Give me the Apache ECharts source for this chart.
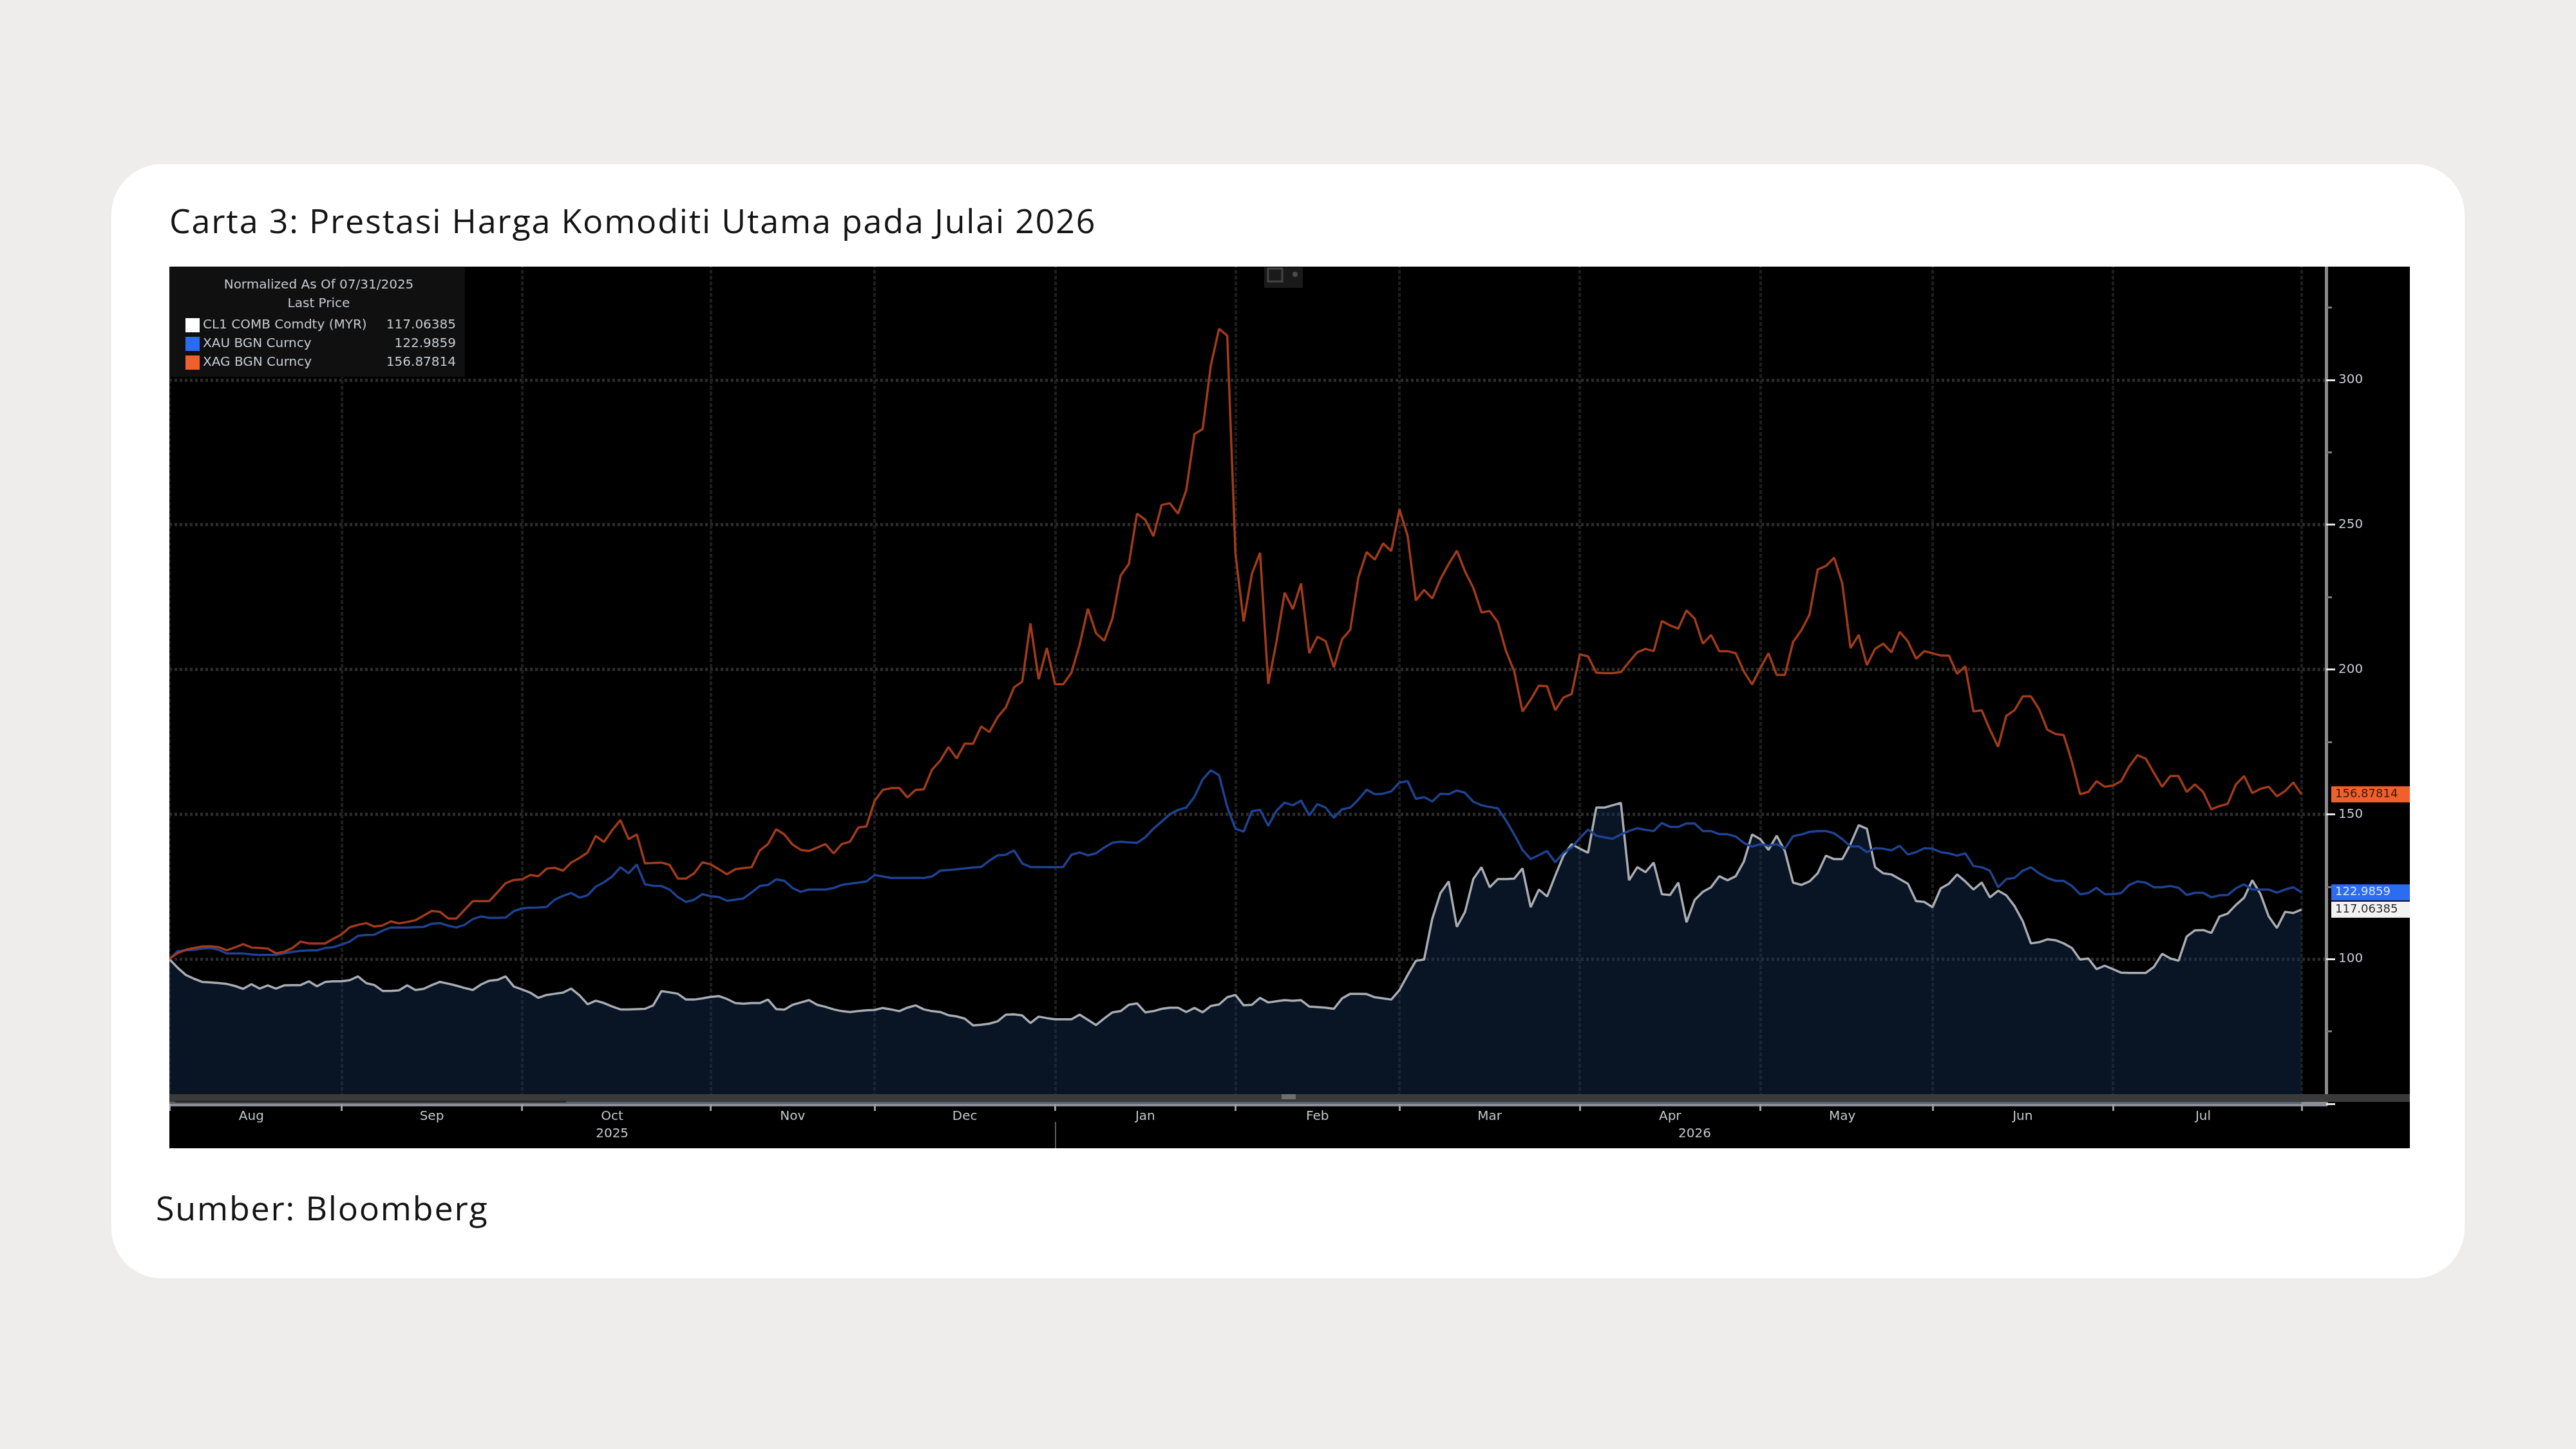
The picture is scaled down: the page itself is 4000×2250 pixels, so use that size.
<!DOCTYPE html>
<html lang="ms">
<head>
  <meta charset="UTF-8">
  <title>Carta 3: Prestasi Harga Komoditi Utama pada Julai 2026</title>
  <script src="https://cdn.jsdelivr.net/npm/echarts/dist/echarts.min.js"></script>
  <style>
    html, body { margin: 0; padding: 0; }
    body {
      width: 4000px;
      height: 2250px;
      background: #eeedeb;
      position: relative;
      overflow: hidden;
      font-family: 'Open Sans', sans-serif;
    }
    .card {
      position: absolute;
      left: 173px;
      top: 255px;
      width: 3654px;
      height: 1730px;
      background: #ffffff;
      border-radius: 78px;
    }
    .title, .source {
      position: absolute;
      font-size: 52px;
      font-weight: 500;
      letter-spacing: 1.8px;
      line-height: 60px;
      color: #141414;
      white-space: nowrap;
    }
    .title { left: 263px; top: 312px; }
    .source { left: 242px; top: 1845px; }
    .chart-box {
      position: absolute;
      left: 263px;
      top: 414px;
      width: 3479px;
      height: 1369px;
      background: #000;
      overflow: hidden;
    }
    #chart {
      position: absolute;
      left: 0;
      top: -60px;
      width: 3479px;
      height: 1429px;
    }
  </style>
</head>
<body>
  <div class="card"></div>
  <div class="title">Carta 3: Prestasi Harga Komoditi Utama pada Julai 2026</div>
  <div class="chart-box"><div id="chart"></div></div>
  <div class="source">Sumber: Bloomberg</div>

  <script>
    // normalized to 100 on 07/31/2025, one value per trading day up to 07/31/2026
    const seriesNames = ['CL1 COMB Comdty (MYR)', 'XAU BGN Curncy', 'XAG BGN Curncy'];
    const monthNames = ['Jan', 'Feb', 'Mar', 'Apr', 'May', 'Jun', 'Jul', 'Aug', 'Sep', 'Oct', 'Nov', 'Dec'];
    const holidays = ['2025-12-25'];

    const cl1Values = [
      100, 97, 94.5, 93.2, 92.1, 91.9, 91.7, 91.4, 90.7, 89.7,
      91.3, 89.8, 90.9, 89.8, 90.9, 91, 91, 92.3, 90.6, 92.1,
      92.3, 92.3, 92.7, 94, 91.7, 91, 89, 89, 89.2, 90.9,
      89.3, 89.7, 91, 92.1, 91.5, 90.8, 90, 89.3, 91.2, 92.5,
      92.8, 94, 90.5, 89.5, 88.4, 86.6, 87.6, 88, 88.4, 89.8,
      87.5, 84.4, 85.6, 84.8, 83.6, 82.6, 82.6, 82.7, 82.8, 84,
      88.9, 88.5, 88, 86, 86, 86.4, 86.9, 87.2, 86.2, 84.8,
      84.6, 84.8, 84.8, 86, 82.7, 82.5, 84.2, 85, 85.8, 84.2,
      83.5, 82.6, 82, 81.7, 82, 82.3, 82.4, 83.1, 82.6, 82,
      83.2, 84, 82.6, 82, 81.7, 80.6, 80.2, 79.4, 77.1, 77.3,
      77.7, 78.5, 80.8, 80.9, 80.5, 77.9, 80.1, 79.6, 79.2, 79.2,
      79.2, 80.8, 79, 77.2, 79.5, 81.6, 82, 84.2, 84.7, 81.6,
      82, 82.8, 83.2, 83.2, 81.7, 83.1, 81.6, 83.8, 84.3, 86.8,
      87.6, 84, 84.2, 86.6, 85, 85.4, 85.8, 85.6, 85.8, 83.6,
      83.4, 83.2, 82.8, 86.4, 88, 88, 87.9, 86.8, 86.4, 86,
      89.3, 94.5, 99.4, 99.8, 113.9, 122.8, 126.8, 111.1, 116.3, 127.6,
      131.7, 124.8, 127.6, 127.6, 127.8, 131.3, 117.9, 124, 121.6, 128.8,
      135.7, 139.7, 138.1, 136.7, 152.3, 152.3, 153.1, 153.9, 127.2, 131.7,
      130, 133.3, 122.4, 122.1, 126.4, 112.7, 120.4, 123.2, 124.8, 128.6,
      127.2, 128.6, 133.7, 143, 141.4, 137.7, 142.6, 137.3, 126.4, 125.6,
      126.8, 129.6, 135.7, 134.5, 134.5, 139.7, 146.2, 145, 131.7, 129.6,
      129.2, 127.6, 126, 120, 119.7, 117.9, 124.4, 126, 129.2, 126.8,
      124, 126.4, 121.3, 123.6, 122, 118.3, 113.1, 105.4, 105.8, 106.8,
      106.5, 105.4, 103.8, 99.8, 100.2, 96.5, 97.7, 96.5, 95.3, 95.2,
      95.2, 95.2, 97.3, 101.8, 100.2, 99.4, 107.8, 109.9, 110, 109,
      114.7, 115.7, 118.7, 121.2, 127.2, 122.4, 114.7, 110.7, 116.3, 115.9,
      117.06385
    ];

    const xauValues = [
      100, 102.7, 103, 103.2, 103.6, 103.8, 103.2, 101.9, 101.9, 101.9,
      101.6, 101.4, 101.4, 101.4, 102, 102.5, 102.8, 103, 103, 103.8,
      104.1, 105, 106, 108, 108.3, 108.4, 109.8, 110.9, 110.9, 110.9,
      111, 111.1, 112.2, 112.4, 111.5, 110.9, 111.8, 113.8, 114.7, 114.2,
      114.2, 114.3, 116.5, 117.5, 117.7, 117.8, 118, 120.5, 121.8, 122.8,
      121.2, 122, 125, 126.5, 128.5, 131.7, 129.6, 132.6, 125.8, 125.3,
      125.2, 124, 121.4, 119.7, 120.5, 122.4, 121.7, 121.4, 120.1, 120.5,
      120.9, 123, 125.2, 125.6, 127.5, 127, 124.5, 123.2, 124, 124,
      124, 124.5, 125.6, 126, 126.4, 126.8, 129, 128.5, 128, 128,
      128, 128, 128, 128.5, 130.5, 130.7, 131, 131.3, 131.6, 131.8,
      134, 135.8, 136, 137.5, 133, 131.8, 131.7, 131.7, 131.7, 131.8,
      136, 136.8, 135.8, 136.5, 138.5, 140.2, 140.5, 140.3, 140.1, 142,
      145, 147.5, 150, 151.5, 152.3, 156, 162, 165.2, 163.5, 152.5,
      145, 144, 151, 151.5, 146, 151.2, 154, 153.1, 154.7, 149.6,
      153.5, 152.3, 148.8, 151.7, 152.3, 155.1, 158.5, 156.9, 157.1, 157.9,
      160.9, 161.4, 155.3, 155.9, 154.4, 157.1, 156.9, 158.2, 157.4, 154.3,
      153.1, 152.5, 152, 147.8, 143, 137.7, 134.5, 135.9, 137.3, 133.4,
      136.7, 138.5, 141.8, 144.7, 142.6, 142, 141.5, 143, 144.2, 145.2,
      144.6, 144.2, 147, 145.6, 145.6, 146.8, 146.8, 144.2, 144.2, 143.1,
      143.1, 142.3, 140.1, 138.8, 139.7, 139.1, 139.7, 138.1, 142.4, 143,
      143.9, 144.2, 144.2, 143.4, 141.4, 138.9, 138.9, 136.9, 138.3, 138.1,
      137.5, 139.1, 136.1, 136.9, 138.3, 138.1, 136.9, 136.5, 135.7, 136.5,
      132.1, 131.7, 130.5, 124.8, 127.6, 128, 130.5, 131.7, 129.6, 128,
      127, 127, 125.2, 122.4, 122.8, 124.6, 122.4, 122.4, 122.8, 125.6,
      126.8, 126.4, 124.8, 124.8, 125.2, 124.6, 122.1, 122.9, 122.9, 121.3,
      122, 122.1, 124.4, 125.8, 124, 124, 124, 122.9, 124, 124.8,
      122.9859
    ];

    const xagValues = [
      100, 102, 103.2, 103.8, 104.3, 104.4, 104.1, 103, 104, 105.1,
      104, 103.8, 103.6, 102, 102.5, 103.8, 106, 105.4, 105.4, 105.4,
      107, 108.5, 111, 111.8, 112.4, 111.2, 111.6, 113, 112.3, 112.8,
      113.4, 115, 116.6, 116.3, 114, 114, 117, 120, 120, 120,
      123, 126.2, 127.3, 127.5, 129, 128.6, 131.2, 131.5, 130.5, 133.3,
      134.9, 136.8, 142.5, 140.4, 144.5, 148, 141.4, 143, 133, 133.2,
      133.3, 132.5, 127.8, 127.8, 129.6, 133.4, 132.7, 131, 129.3, 131,
      131.4, 131.7, 137.5, 139.7, 144.8, 143, 139.5, 137.7, 137.3, 138.5,
      139.7, 136.5, 139.7, 140.5, 145.4, 145.8, 154.6, 158.4, 159, 159.1,
      155.8, 158.4, 158.6, 165.4, 168.5, 173.2, 169.3, 174.4, 174.3, 180.3,
      178.4, 183.5, 186.9, 193.8, 195.8, 215.9, 196.6, 207.4, 194.9, 194.9,
      198.9, 208.5, 221, 212.5, 209.9, 217.6, 232.4, 236.4, 253.8, 251.7,
      246, 256.8, 257.4, 253.8, 261.9, 281.3, 283, 305, 317.6, 315.3,
      240, 216.5, 233, 240.3, 195, 209.5, 226.5, 220.8, 229.7, 205.6,
      211.3, 209.8, 200.7, 210.4, 213.7, 231.9, 240.5, 237.9, 243.5, 240.9,
      255.3, 246.1, 223.8, 227.5, 224.5, 231.2, 236.4, 241, 233.8, 228.2,
      219.7, 220.2, 216.3, 206.3, 199.3, 185.5, 189.6, 194.4, 194.2, 185.9,
      190.3, 191.5, 205.2, 204.5, 198.9, 198.7, 198.7, 199.1, 202.6, 205.9,
      207.1, 206.3, 216.7, 215.2, 214.1, 220.4, 217.5, 208.9, 211.9, 206.3,
      206.3, 205.6, 199.3, 194.8, 200.4, 205.6, 198.1, 198.1, 209.5, 213.5,
      218.9, 234.5, 235.7, 238.6, 229.7, 207.4, 211.9, 201.5, 207.1, 208.9,
      205.9, 213, 209.7, 203.7, 206.3, 205.6, 204.8, 204.8, 198.5, 201.1,
      185.5, 185.9, 179.2, 173.3, 184, 185.9, 190.7, 190.7, 186.3, 179.2,
      177.7, 177.3, 168.1, 156.9, 157.7, 161.4, 159.5, 159.9, 161.4, 166.6,
      170.4, 169.2, 164.3, 159.5, 163.2, 163.2, 157.7, 160.3, 157.7, 151.7,
      152.8, 153.6, 160.3, 163.2, 157.3, 158.8, 159.5, 156.2, 158, 161,
      156.87814
    ];

    // trading days: weekdays from the normalization date, a few empty days kept at the right edge
    const categories = [];
    for (let t = Date.UTC(2025, 6, 31); t <= Date.UTC(2026, 7, 5); t += 86400000) {
      const d = new Date(t);
      const day = d.getUTCDay();
      const s = d.toISOString().slice(0, 10);
      if (day === 0 || day === 6 || holidays.includes(s)) continue;
      categories.push(s);
    }

    // gridlines sit on the last trading day of each month
    const monthEnds = new Set();
    const yearEnds = new Set();
    for (let i = 0; i < categories.length - 1; i++) {
      if (categories[i].slice(0, 7) !== categories[i + 1].slice(0, 7)) monthEnds.add(i);
      if (categories[i].slice(0, 4) !== categories[i + 1].slice(0, 4)) yearEnds.add(i);
    }
    const ends = [...monthEnds].sort((a, b) => a - b);
    const monthLabelAt = new Set();
    for (let k = 0; k < ends.length - 1; k++) monthLabelAt.add(Math.floor((ends[k] + ends[k + 1]) / 2));

    const yearLabelAt = new Set();
    let start = 0;
    [...yearEnds, categories.length - 1].forEach(e => {
      yearLabelAt.add(Math.floor((start + e) / 2));
      start = e + 1;
    });

    const lastText = {};
    [cl1Values, xauValues, xagValues].forEach((v, k) => { lastText[seriesNames[k]] = String(v[v.length - 1]); });

    const font = 'DejaVu Sans';
    const legendColors = ['#ffffff', '#2a6cf0', '#f0602e'];

    function priceTag(values, bg, fg) {
      const last = values[values.length - 1];
      return {
        silent: true,
        symbol: ['none', 'none'],
        lineStyle: { width: 0, color: 'rgba(0,0,0,0)', type: 'solid' },
        data: [{ yAxis: last }],
        label: {
          show: true,
          position: 'end',
          distance: 8,
          formatter: String(last),
          backgroundColor: bg,
          color: fg,
          opacity: 1,
          fontFamily: font,
          fontSize: 18,
          lineHeight: 21,
          padding: [2, 30, 2, 6]
        }
      };
    }

    const chart = echarts.init(document.getElementById('chart'));

    const option = {
      animation: false,
      backgroundColor: 'transparent',
      textStyle: { fontFamily: font },
      grid: { left: 0, right: 130, top: 11, bottom: 69, containLabel: false, outerBoundsMode: 'none' },
      legend: {
        orient: 'vertical',
        left: 20,
        top: 135,
        itemWidth: 22,
        itemHeight: 22,
        itemGap: 7,
        icon: 'rect',
        selectedMode: false,
        z: 10,
        data: seriesNames.map((n, k) => ({ name: n, itemStyle: { color: legendColors[k], borderWidth: 0 } })),
        formatter: name => `{n|${name}}{v|${lastText[name]}}`,
        textStyle: {
          color: '#c6ccd2',
          fontSize: 20,
          rich: {
            n: { width: 285, color: '#c6ccd2', fontSize: 20, fontFamily: font },
            v: { width: 108, align: 'right', color: '#c6ccd2', fontSize: 20, fontFamily: font }
          }
        }
      },
      graphic: {
        elements: [
          // legend panel
          { type: 'rect', z: 5, shape: { x: 0, y: 61, width: 459, height: 170 }, style: { fill: '#101010' } },
          { type: 'text', z: 6, x: 232, y: 89,
            style: { text: 'Normalized As Of 07/31/2025', fill: '#c6ccd2', font: '20px "DejaVu Sans"', align: 'center', verticalAlign: 'middle' } },
          { type: 'text', z: 6, x: 232, y: 118,
            style: { text: 'Last Price', fill: '#c6ccd2', font: '20px "DejaVu Sans"', align: 'center', verticalAlign: 'middle' } },
          // small toolbar button at the top
          { type: 'rect', z: 5, shape: { x: 1700, y: 61, width: 60, height: 32 }, style: { fill: '#1a1a1a' } },
          { type: 'rect', z: 6, shape: { x: 1706, y: 63, width: 22, height: 20 }, style: { fill: 'none', stroke: '#444', lineWidth: 3 } },
          { type: 'circle', z: 6, shape: { cx: 1748, cy: 72, r: 4 }, style: { fill: '#4c4c4c' } },
          // scroll strip under the plot
          { type: 'rect', z: 50, shape: { x: 0, y: 1345, width: 3479, height: 12 }, style: { fill: '#3a3a3a' } },
          { type: 'rect', z: 51, shape: { x: 9, y: 1355, width: 607, height: 3 }, style: { fill: '#262626' } },
          { type: 'rect', z: 51, shape: { x: 1727, y: 1345, width: 22, height: 8 }, style: { fill: '#6e6e6e' } }
        ]
      },
      xAxis: [
        {
          type: 'category',
          data: categories,
          boundaryGap: false,
          axisLine: { show: true, lineStyle: { color: '#8b8f95', width: 7 } },
          axisTick: { show: true, interval: i => monthEnds.has(i), length: 11, lineStyle: { color: '#9a9ea4', width: 3 } },
          axisLabel: {
            show: true,
            interval: i => monthLabelAt.has(i),
            formatter: v => monthNames[+v.slice(5, 7) - 1],
            color: '#c4c8cc',
            fontSize: 20,
            fontFamily: font,
            margin: 10
          },
          splitLine: { show: true, interval: i => monthEnds.has(i), lineStyle: { color: '#1d1d1d', width: 4, type: [6, 3] } }
        },
        {
          type: 'category',
          data: categories,
          boundaryGap: false,
          position: 'bottom',
          offset: 28,
          axisLine: { show: false },
          axisTick: { show: true, interval: i => yearEnds.has(i), length: 42, lineStyle: { color: '#5a5a5a', width: 2 } },
          axisLabel: {
            show: true,
            interval: i => yearLabelAt.has(i),
            formatter: v => v.slice(0, 4),
            color: '#c4c8cc',
            fontSize: 20,
            fontFamily: font,
            margin: 9
          },
          splitLine: { show: false }
        }
      ],
      yAxis: {
        type: 'value',
        position: 'right',
        min: 50,
        max: 350,
        interval: 50,
        axisLine: { show: true, lineStyle: { color: '#8a8a8a', width: 5 } },
        axisTick: { show: true, inside: false, length: 14, lineStyle: { color: '#e6e6e6', width: 3 } },
        minorTick: { show: true, splitNumber: 2, length: 9, lineStyle: { color: '#7a7a7a', width: 3 } },
        axisLabel: {
          color: '#c4ccd6',
          fontSize: 20,
          fontFamily: font,
          margin: 19,
          formatter: v => (v >= 100 && v <= 300 ? String(v) : '')
        },
        splitLine: { show: true, lineStyle: { color: '#2c2c2c', width: 5, type: [4, 4] } },
        minorSplitLine: { show: false }
      },
      series: [
        {
          name: seriesNames[0],
          type: 'line',
          data: cl1Values,
          symbol: 'none',
          clip: false,
          lineStyle: { color: '#a9adb3', width: 3.5 },
          itemStyle: { color: '#a9adb3' },
          areaStyle: { color: 'rgba(20, 46, 82, 0.64)', origin: 'start' },
          emphasis: { disabled: true },
          markLine: priceTag(cl1Values, '#f2f2f2', '#2a2a2a')
        },
        {
          name: seriesNames[1],
          type: 'line',
          data: xauValues,
          symbol: 'none',
          clip: false,
          lineStyle: { color: '#1e4392', width: 3.5 },
          itemStyle: { color: '#1e4392' },
          emphasis: { disabled: true },
          markLine: priceTag(xauValues, '#2c6cf0', '#dce6ff')
        },
        {
          name: seriesNames[2],
          type: 'line',
          data: xagValues,
          symbol: 'none',
          clip: false,
          lineStyle: { color: '#a23b1b', width: 3.5 },
          itemStyle: { color: '#a23b1b' },
          emphasis: { disabled: true },
          markLine: priceTag(xagValues, '#f0602e', '#3a160a')
        }
      ]
    };

    chart.setOption(option);
  </script>
</body>
</html>
